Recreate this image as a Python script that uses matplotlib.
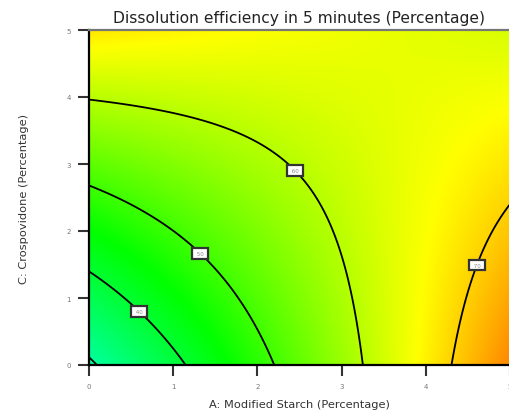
import numpy as np
import matplotlib

matplotlib.use("Agg")
import matplotlib.pyplot as plt
from matplotlib.colors import LinearSegmentedColormap

# fitted response surface: DE = b0 + bA*A + bC*C + bAC*A*C
b0 = 29.1
bA = 9.5
bC = 7.8
bAC = -2.11

corner_levels = [30]
labelled_levels = [40, 50, 60, 70]
label_spots = [(0.62, 0.83), (1.35, 1.70), (2.45, 2.90), (4.57, 1.51)]

x_ticks = [0, 1, 2, 3, 4, 5]
y_ticks = [0, 1, 2, 3, 4, 5]

A = np.linspace(0, 5, 301)
C = np.linspace(0, 5, 301)
AA, CC = np.meshgrid(A, C)
Z = b0 + bA * AA + bC * CC + bAC * AA * CC

cmap = LinearSegmentedColormap.from_list(
    "de",
    [(0.0, "#00ffa0"), (0.33, "#00ff00"), (0.78, "#ffff00"), (1.0, "#ff8800")],
)

fig = plt.figure(figsize=(5.10, 4.14), dpi=100)
ax = fig.add_axes([89 / 510, 48 / 414, 421 / 510, 335 / 414])

ax.imshow(Z, extent=[0, 5, 0, 5], origin="lower", cmap=cmap, aspect="auto",
          interpolation="bilinear", vmin=Z.min(), vmax=Z.max())
ax.contour(AA, CC, Z, levels=corner_levels, colors="black", linewidths=1.3)
cs = ax.contour(AA, CC, Z, levels=labelled_levels, colors="black", linewidths=1.3)

labels = ax.clabel(cs, manual=label_spots, inline=False,
                   fontsize=4, fmt=" %d ", colors="#888888")
for t in labels:
    t.set_rotation(0)
    t.set_bbox(dict(boxstyle="square,pad=0.5", fc="white", ec="#333333", lw=1.6))

ax.set_xlim(0, 5)
ax.set_ylim(0, 5)
ax.set_xticks(x_ticks)
ax.set_yticks(y_ticks)
ax.tick_params(axis="both", direction="out", length=8, width=1.5, color="#333333",
               labelsize=5, labelcolor="#777777", pad=5)

for side in ["left", "bottom"]:
    ax.spines[side].set_linewidth(1.6)
    ax.spines[side].set_color("black")
ax.spines["top"].set_linewidth(1.6)
ax.spines["top"].set_color("#777777")
ax.spines["right"].set_visible(False)

ax.set_title("Dissolution efficiency in 5 minutes (Percentage)", fontsize=11.2,
             color="#222222", pad=6)
ax.set_xlabel("A: Modified Starch (Percentage)", fontsize=8.2, color="#333333",
              labelpad=7)
ax.set_ylabel("C: Crospovidone (Percentage)", fontsize=8.2, color="#333333",
              labelpad=27)

fig.savefig("out.png", dpi=100)
